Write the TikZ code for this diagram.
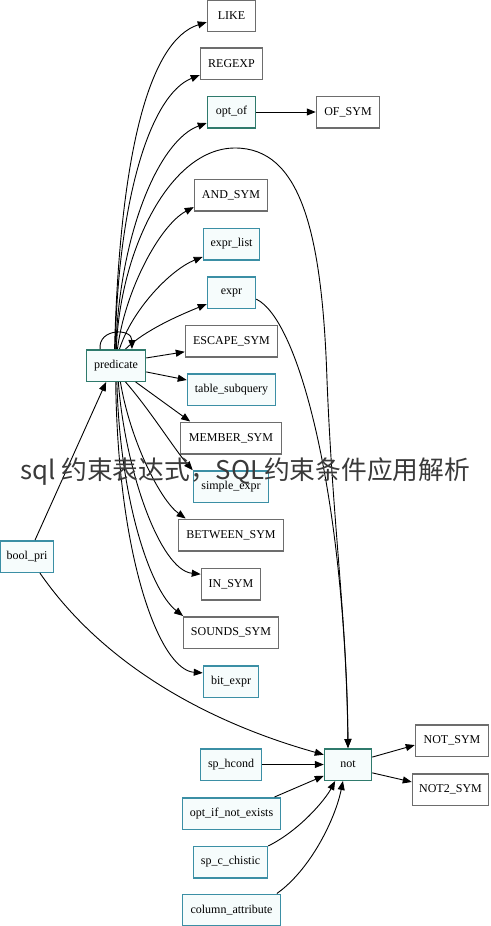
\documentclass[tikz,border=0pt]{standalone}
\usepackage{fontspec}
\setmainfont{Liberation Serif}
\newfontfamily\cjk{Noto Sans CJK SC}
\usetikzlibrary{arrows.meta}
\definecolor{grayc}{HTML}{6D6D6D}
\definecolor{tealc}{HTML}{3B8FA5}
\definecolor{darkteal}{HTML}{2F7A6C}
\definecolor{tealfill}{HTML}{F6FCFC}
\definecolor{wmc}{HTML}{3A3A3A}
\begin{document}
\begin{tikzpicture}[x=1pt,y=1pt,
  base/.style={rectangle, draw, line width=1.5pt, minimum height=31.5pt, inner sep=0pt, font=\fontsize{12}{14}\selectfont, fill=white},
  gbox/.style={base, draw=grayc},
  tbox/.style={base, draw=tealc, fill=tealfill},
  dbox/.style={base, draw=darkteal, fill=tealfill},
  edge/.style={line width=0.9pt, -{Triangle[length=9pt,width=7pt]}}]
\useasboundingbox (0,0) rectangle (490,-926);
% nodes
\node[gbox, minimum width=48pt]  (LIKE)   at (231.5,-15.5) {LIKE};
\node[gbox, minimum width=62pt]  (REGEXP) at (231.5,-63.5) {REGEXP};
\node[dbox, minimum width=48pt]  (optof)  at (231.5,-112)  {opt\_of};
\node[gbox, minimum width=63pt]  (OFSYM)  at (348,-112)    {OF\_SYM};
\node[gbox, minimum width=73pt]  (AND)    at (231,-195)    {AND\_SYM};
\node[tbox, minimum width=56pt]  (exprlist) at (231.5,-244) {expr\_list};
\node[tbox, minimum width=48pt]  (expr)   at (231.5,-292.5) {expr};
\node[gbox, minimum width=92pt]  (ESC)    at (231.5,-341)  {ESCAPE\_SYM};
\node[dbox, minimum width=59pt]  (pred)   at (116,-365.5)  {predicate};
\node[tbox, minimum width=88pt]  (tsub)   at (231.5,-389.5) {table\_subquery};
\node[gbox, minimum width=101pt] (MEM)    at (231,-438)    {MEMBER\_SYM};
\node[tbox, minimum width=75pt]  (sexpr)  at (231,-486.5)  {simple\_expr};
\node[gbox, minimum width=105pt] (BET)    at (231,-535)    {BETWEEN\_SYM};
\node[gbox, minimum width=59pt]  (IN)     at (231,-584)    {IN\_SYM};
\node[gbox, minimum width=95pt]  (SOUNDS) at (231,-632.5)  {SOUNDS\_SYM};
\node[tbox, minimum width=55pt]  (bitexpr) at (231,-681.5) {bit\_expr};
\node[tbox, minimum width=53pt]  (boolpri) at (27,-556.5)  {bool\_pri};
\node[dbox, minimum width=47pt]  (not)    at (348,-764.5)  {not};
\node[gbox, minimum width=73pt]  (NOTSYM) at (452,-740.5)  {NOT\_SYM};
\node[gbox, minimum width=76pt]  (NOT2)   at (450.5,-789.5) {NOT2\_SYM};
\node[tbox, minimum width=61pt]  (sphcond) at (231,-764.5) {sp\_hcond};
\node[tbox, minimum width=98pt]  (optif)  at (231.5,-813.5) {opt\_if\_not\_exists};
\node[tbox, minimum width=74pt]  (spc)    at (230.5,-862)  {sp\_c\_chistic};
\node[tbox, minimum width=98pt]  (colattr) at (231.5,-910) {column\_attribute};
% edges from predicate upward
\draw[edge] (pred.95) .. controls (120,-150) and (150,-40) .. (LIKE.195);
\draw[edge] (pred.93) .. controls (118,-200) and (150,-95) .. (REGEXP.200);
\draw[edge] (pred.91) .. controls (120,-230) and (160,-140) .. (optof.204);
\draw[edge] (pred.89) .. controls (120,-250) and (170,-148) .. (235,-148)
   .. controls (300,-148) and (322,-230) .. (327,-380)
   .. controls (333,-530) and (347,-620) .. (not.north);
\draw[edge] (pred.85) .. controls (125,-290) and (160,-225) .. (AND.198);
\draw[edge] (pred.78) .. controls (132,-310) and (170,-270) .. (exprlist.204);
\draw[edge] (pred.60) .. controls (145,-330) and (180,-315) .. (expr.205);
\draw[edge] (pred.134) .. controls (98,-328) and (132,-328) .. (pred.46);
\draw[edge] (pred.14) -- (ESC.193);
\draw[edge] (pred.-12) -- (tsub.168);
\draw[edge] (pred.-40) -- (MEM.158);
% edges from predicate downward
\draw[edge] (pred.-60) .. controls (150,-410) and (175,-450) .. (sexpr.157);
\draw[edge] (pred.-75) .. controls (130,-440) and (160,-500) .. (BET.160);
\draw[edge] (pred.-82) .. controls (125,-470) and (160,-570) .. (IN.162);
\draw[edge] (pred.-87) .. controls (120,-500) and (150,-590) .. (SOUNDS.161);
\draw[edge] (pred.-91) .. controls (118,-560) and (160,-670) .. (bitexpr.163);
% other edges
\draw[edge] (optof.east) -- (OFSYM.west);
\draw[edge] (expr.-15) .. controls (300,-320) and (345,-500) .. (not.north);
\draw[edge] (boolpri.64) -- (pred.239);
\draw[edge] (boolpri.-52) .. controls (100,-660) and (200,-720) .. (not.158);
\draw[edge] (sphcond.east) -- (not.west);
\draw[edge] (optif.21) -- (not.205);
\draw[edge] (spc.23) .. controls (300,-830) and (325,-800) .. (not.232);
\draw[edge] (colattr.20) .. controls (310,-870) and (335,-820) .. (not.253);
\draw[edge] (not.17) -- (NOTSYM.187);
\draw[edge] (not.-19) -- (NOT2.169);
% overlay caption
\node[anchor=base west, inner sep=0pt, text=wmc] (wm) at (20,-479)
  {\resizebox{450pt}{!}{\cjk sql 约束表达式，SQL约束条件应用解析}};
\end{tikzpicture}
\end{document}
